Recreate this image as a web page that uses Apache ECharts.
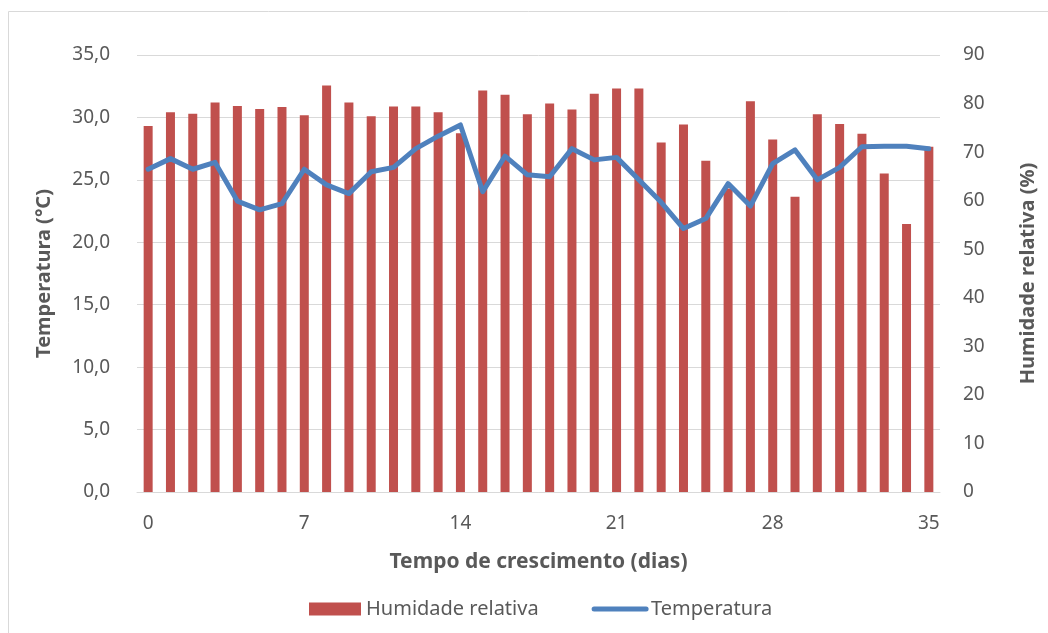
<!DOCTYPE html>
<html style="height: 100%">
<head>
<meta charset="utf-8">
</head>
<body style="height: 100%; margin: 0; background: #fff">
<div id="container" style="width: 1048px; height: 633px"></div>
<script type="text/javascript" src="https://cdn.jsdelivr.net/npm/echarts@6/dist/echarts.min.js"></script>
<script type="text/javascript">
// days 0..35
var days = [];
for (var d = 0; d <= 35; d++) days.push(String(d));

// relative humidity (%), right axis
var humidity = [75.4, 78.2, 77.9, 80.2, 79.5, 78.9, 79.3, 77.6, 83.7, 80.2,
                77.4, 79.4, 79.4, 78.2, 73.9, 82.7, 81.8, 77.8, 80.0, 78.8,
                82.0, 83.1, 83.1, 72.0, 75.7, 68.2, 62.5, 80.5, 72.6, 60.8,
                77.8, 75.8, 73.8, 65.6, 55.2, 71.1];

// temperature (°C), left axis
var temperature = [25.85, 26.7, 25.85, 26.4, 23.3, 22.6, 23.1, 25.85, 24.6, 23.9,
                   25.65, 26.0, 27.5, 28.5, 29.4, 24.05, 26.9, 25.4, 25.25, 27.5,
                   26.6, 26.8, 25.0, 23.2, 21.1, 21.9, 24.7, 22.9, 26.3, 27.4,
                   25.0, 26.0, 27.65, 27.7, 27.7, 27.5];

var txt = '#595959';
var fontFam = '"Noto Sans", "Open Sans", sans-serif';

var dom = document.getElementById('container');
var myChart = echarts.init(dom);

var option = {
    animation: false,
    textStyle: { fontFamily: fontFam },
    graphic: [{
        type: 'rect',
        shape: { x: 8.5, y: 11.5, width: 1100, height: 700 },
        style: { fill: 'none', stroke: '#D9D9D9', lineWidth: 1 },
        silent: true
    }],
    grid: { left: 137, right: 108, top: 55, bottom: 141 },
    legend: {
        top: 594,
        left: 304,
        itemGap: 53,
        itemWidth: 52,
        itemHeight: 13,
        textStyle: { color: txt, fontSize: 20, fontFamily: fontFam },
        data: [
            { name: 'Humidade relativa', icon: 'rect' },
            { name: 'Temperatura', itemStyle: { opacity: 0 },
              lineStyle: { width: 5, color: '#4F81BD', cap: 'round' } }
        ]
    },
    xAxis: {
        type: 'category',
        data: days,
        boundaryGap: true,
        name: 'Tempo de crescimento (dias)',
        nameLocation: 'middle',
        nameGap: 60,
        nameTextStyle: { color: txt, fontSize: 21, fontWeight: 'bold', fontFamily: fontFam },
        axisLine: { lineStyle: { color: '#D9D9D9' } },
        axisTick: { show: false },
        axisLabel: { interval: 6, color: txt, fontSize: 19, margin: 22 }
    },
    yAxis: [{
        type: 'value',
        min: 0, max: 35, interval: 5,
        name: 'Temperatura (°C)',
        nameLocation: 'middle',
        nameGap: 83,
        nameTextStyle: { color: txt, fontSize: 20, fontWeight: 'bold', fontFamily: fontFam },
        axisLabel: {
            color: txt, fontSize: 19, margin: 27,
            formatter: function (v) { return v.toFixed(1).replace('.', ','); }
        },
        axisLine: { show: false },
        axisTick: { show: false },
        splitLine: { lineStyle: { color: '#D9D9D9' } }
    }, {
        type: 'value',
        min: 0, max: 90, interval: 10,
        name: 'Humidade relativa (%)',
        nameLocation: 'middle',
        nameGap: 78,
        nameRotate: 90,
        nameTextStyle: { color: txt, fontSize: 20, fontWeight: 'bold', fontFamily: fontFam },
        axisLabel: { color: txt, fontSize: 19, margin: 23 },
        axisLine: { show: false },
        axisTick: { show: false },
        splitLine: { show: false }
    }],
    series: [{
        name: 'Humidade relativa',
        type: 'bar',
        yAxisIndex: 1,
        data: humidity,
        barWidth: 9,
        itemStyle: { color: '#C0504D' }
    }, {
        name: 'Temperatura',
        type: 'line',
        yAxisIndex: 0,
        data: temperature,
        symbol: 'none',
        lineStyle: { color: '#4F81BD', width: 5, cap: 'round', join: 'round' },
        itemStyle: { color: '#4F81BD' }
    }]
};

myChart.setOption(option);
</script>
</body>
</html>
